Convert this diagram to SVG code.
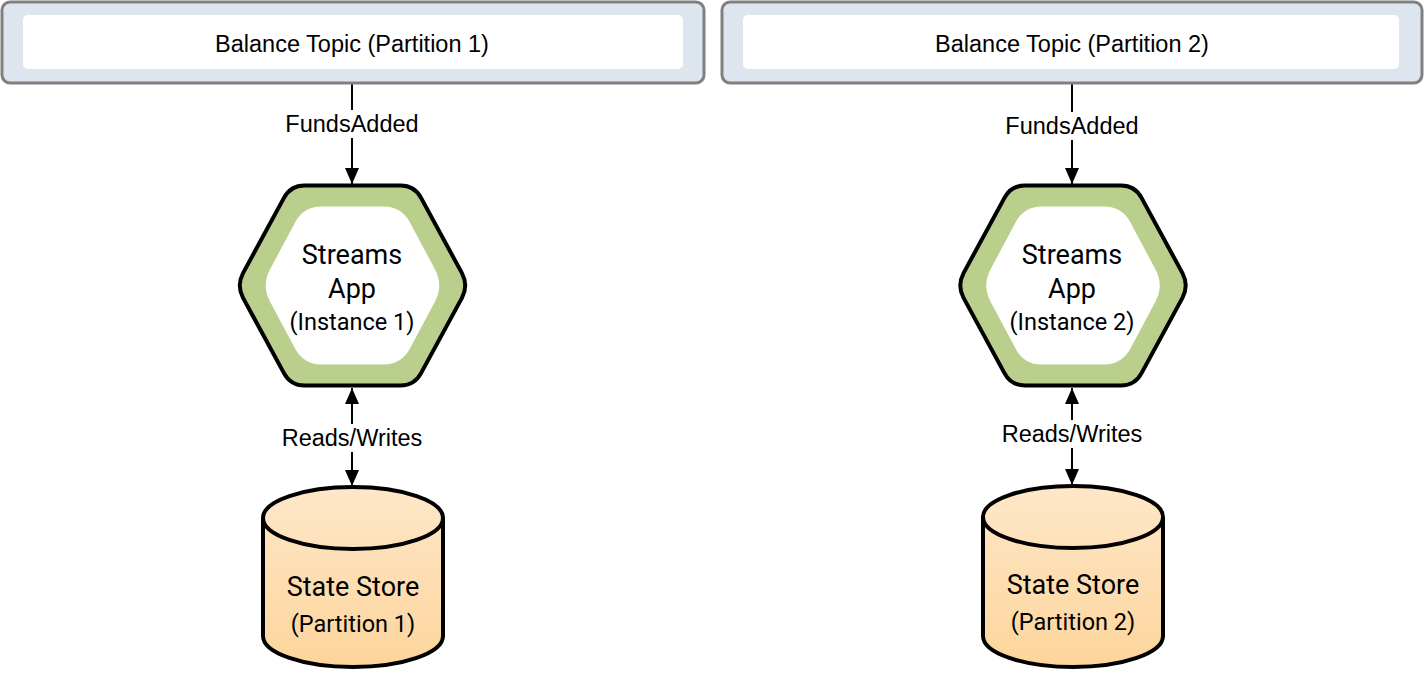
<svg xmlns="http://www.w3.org/2000/svg" width="1424" height="686" viewBox="0 0 1424 686">
<style>
.topic-outer{fill:#dde6ee;stroke:#808080;stroke-width:3}
.topic-inner{fill:#ffffff}
.lbl{font-family:"Liberation Sans",Arial,sans-serif;font-size:23.5px;fill:#000;text-anchor:middle}
.node{font-family:Roboto,"Liberation Sans",sans-serif;fill:#000;text-anchor:middle}
.big{font-size:27px}
.small{font-size:23.5px}
.hex-outer{fill:#b9cf8b;stroke:#000;stroke-width:4}
.hex-inner{fill:#ffffff}
.cyl{fill:url(#cylGrad);stroke:#000;stroke-width:4}
.cyl-line{fill:none;stroke:#000;stroke-width:4}
.conn{stroke:#000;stroke-width:2;fill:none}
.bg{fill:#ffffff}
</style>
<defs>
<linearGradient id="cylGrad" x1="0" y1="0" x2="0" y2="1">
<stop offset="0" stop-color="#fee7c9"/>
<stop offset="1" stop-color="#fdd59b"/>
</linearGradient>
<path id="hexOuter" d="M -109.45,-12.4 L -68.55,-87.6 Q -62,-100 -48,-100 L 48,-100 Q 62,-100 68.55,-87.6 L 109.45,-12.4 Q 116,0 109.45,12.4 L 68.55,87.6 Q 62,100 48,100 L -48,100 Q -62,100 -68.55,87.6 L -109.45,12.4 Q -116,0 -109.45,-12.4 Z"/>
<path id="hexInner" d="M -82.55,-15.9 L -57.45,-63.1 Q -49,-79 -31,-79 L 31,-79 Q 49,-79 57.45,-63.1 L 82.55,-15.9 Q 91,0 82.55,15.9 L 57.45,63.1 Q 49,79 31,79 L -31,79 Q -49,79 -57.45,63.1 L -82.55,15.9 Q -91,0 -82.55,-15.9 Z"/>
<marker id="arr" viewBox="0 0 16 14" refX="16" refY="7" markerWidth="16" markerHeight="14" markerUnits="userSpaceOnUse" orient="auto">
<path d="M0,0 L16,7 L0,14 Z" fill="#000"/>
</marker>
</defs>

<g id="connectors">
<line class="conn" x1="352" y1="84" x2="352" y2="184" marker-end="url(#arr)"/>
<rect class="bg" x="284" y="110" width="136" height="28"/>
<text class="lbl" x="352" y="132">FundsAdded</text>

<line class="conn" x1="352" y1="438" x2="352" y2="388" marker-end="url(#arr)"/>
<line class="conn" x1="352" y1="438" x2="352" y2="486" marker-end="url(#arr)"/>
<rect class="bg" x="280" y="424" width="144" height="28"/>
<text class="lbl" x="352" y="446">Reads/Writes</text>

<line class="conn" x1="1072" y1="84" x2="1072" y2="184" marker-end="url(#arr)"/>
<rect class="bg" x="1004" y="112" width="136" height="28"/>
<text class="lbl" x="1072" y="134">FundsAdded</text>

<line class="conn" x1="1072" y1="434" x2="1072" y2="388" marker-end="url(#arr)"/>
<line class="conn" x1="1072" y1="434" x2="1072" y2="485" marker-end="url(#arr)"/>
<rect class="bg" x="1000" y="420" width="144" height="28"/>
<text class="lbl" x="1072" y="442">Reads/Writes</text>
</g>

<g id="topic1">
<rect class="topic-outer" x="2" y="2" width="702" height="81" rx="8"/>
<rect class="topic-inner" x="23" y="15" width="660" height="54" rx="5"/>
<text class="lbl" x="352" y="52">Balance Topic (Partition 1)</text>
</g>

<g id="topic2">
<rect class="topic-outer" x="722" y="2" width="700" height="81" rx="8"/>
<rect class="topic-inner" x="743" y="15" width="656" height="54" rx="5"/>
<text class="lbl" x="1072" y="52">Balance Topic (Partition 2)</text>
</g>

<g id="app1">
<use href="#hexOuter" class="hex-outer" transform="translate(352.5,285.5)"/>
<use href="#hexInner" class="hex-inner" transform="translate(352.5,285.5)"/>
<text class="node big" x="352" y="264">Streams</text>
<text class="node big" x="352" y="298">App</text>
<text class="node small" x="352" y="330">(Instance 1)</text>
</g>

<g id="app2">
<use href="#hexOuter" class="hex-outer" transform="translate(1073,285.5)"/>
<use href="#hexInner" class="hex-inner" transform="translate(1073,285.5)"/>
<text class="node big" x="1072" y="264">Streams</text>
<text class="node big" x="1072" y="298">App</text>
<text class="node small" x="1072" y="330">(Instance 2)</text>
</g>

<g id="store1">
<path class="cyl" d="M 263,518 A 90,31 0 0 1 443,518 L 443,636 A 90,31 0 0 1 263,636 Z"/>
<path class="cyl-line" d="M 263,518 A 90,31 0 0 0 443,518"/>
<text class="node big" x="353" y="596">State Store</text>
<text class="node small" x="353" y="632">(Partition 1)</text>
</g>

<g id="store2">
<path class="cyl" d="M 983,517 A 90,31 0 0 1 1163,517 L 1163,636 A 90,31 0 0 1 983,636 Z"/>
<path class="cyl-line" d="M 983,517 A 90,31 0 0 0 1163,517"/>
<text class="node big" x="1073" y="594">State Store</text>
<text class="node small" x="1073" y="630">(Partition 2)</text>
</g>
</svg>
